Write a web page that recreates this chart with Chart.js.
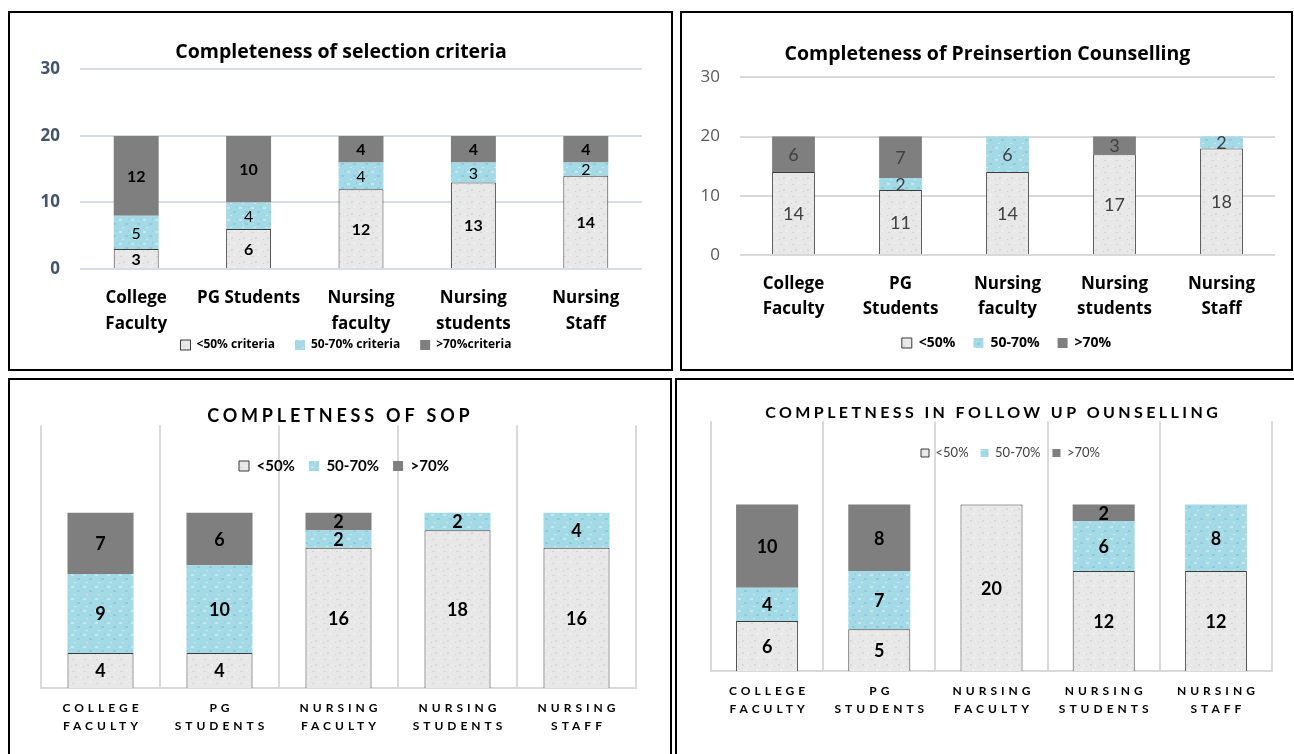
<!DOCTYPE html>
<html>
<head>
<meta charset="utf-8">
<script src="https://cdn.jsdelivr.net/npm/chart.js@4.4.1/dist/chart.umd.min.js"></script>
<style>
  body { margin: 0; background: #fff; width: 1294px; height: 754px; overflow: hidden; position: relative; }
  .panel { position: absolute; border: 2px solid #000; box-sizing: border-box; background: #fff; }
  .panel canvas { position: absolute; left: 0; top: 0; }
</style>
</head>
<body>
<div class="panel" style="left:8px;top:11px;width:665px;height:360px"><canvas id="selection" width="661" height="356"></canvas></div>
<div class="panel" style="left:680px;top:11px;width:613px;height:360px"><canvas id="preinsertion" width="609" height="356"></canvas></div>
<div class="panel" style="left:8px;top:378px;width:664px;height:380px"><canvas id="sop" width="660" height="376"></canvas></div>
<div class="panel" style="left:675px;top:378px;width:622px;height:380px"><canvas id="followup" width="618" height="376"></canvas></div>

<script>
// ---- data ----
const selectionLabels = [['College', 'Faculty'], 'PG Students', ['Nursing', 'faculty'], ['Nursing', 'students'], ['Nursing', 'Staff']];
const preinsertionLabels = [['College', 'Faculty'], ['PG', 'Students'], ['Nursing', 'faculty'], ['Nursing', 'students'], ['Nursing', 'Staff']];
const sopLabels = [['COLLEGE', 'FACULTY'], ['PG', 'STUDENTS'], ['NURSING', 'FACULTY'], ['NURSING', 'STUDENTS'], ['NURSING', 'STAFF']];
const followUpLabels = [['COLLEGE', 'FACULTY'], ['PG', 'STUDENTS'], ['NURSING', 'FACULTY'], ['NURSING', 'STUDENTS'], ['NURSING', 'STAFF']];

const selectionNames = ['<50% criteria', '50-70% criteria', '>70%criteria'];
const bandNames = ['<50%', '50-70%', '>70%'];

const selectionLow = [3, 6, 12, 13, 14];
const selectionMid = [5, 4, 4, 3, 2];
const selectionHigh = [12, 10, 4, 4, 4];

const preinsertionLow = [14, 11, 14, 17, 18];
const preinsertionMid = [0, 2, 6, 0, 2];
const preinsertionHigh = [6, 7, 0, 3, 0];

const sopLow = [4, 4, 16, 18, 16];
const sopMid = [9, 10, 2, 2, 4];
const sopHigh = [7, 6, 2, 0, 0];

const followUpLow = [6, 5, 20, 12, 12];
const followUpMid = [4, 7, 0, 6, 8];
const followUpHigh = [10, 8, 0, 2, 0];

const yTicks = [0, 10, 20, 30];

// ---- look ----
Chart.defaults.font.family = '"Open Sans"';

// small speckled tiles, like the picture fills in the original
function speckle(base, dots) {
  const c = document.createElement('canvas');
  c.width = c.height = 12;
  const g = c.getContext('2d');
  g.fillStyle = base;
  g.fillRect(0, 0, 12, 12);
  dots.forEach(d => { g.fillStyle = d[4]; g.fillRect(d[0], d[1], d[2], d[3]); });
  return g.createPattern(c, 'repeat');
}
const fills = [
  speckle('#E8E8E8', [[2, 3, 2, 1, '#D4D4D4'], [8, 1, 1, 2, '#F6F6F6'], [5, 8, 2, 2, '#D9D9D9'], [10, 9, 1, 1, '#F8F8F8'], [1, 10, 1, 1, '#D0D0D0']]),
  speckle('#A4D9E6', [[1, 2, 3, 2, '#C3E8F1'], [7, 6, 3, 2, '#8ECCDC'], [4, 10, 2, 1, '#C9EBF3'], [10, 1, 1, 2, '#92CFDF']]),
  '#7F7F7F'
];

// numbers in the middle of each stacked segment
const segmentLabels = {
  id: 'segmentLabels',
  afterDatasetsDraw(chart, args, opts) {
    const ctx = chart.ctx;
    ctx.save();
    ctx.textAlign = 'center';
    ctx.textBaseline = 'middle';
    chart.data.datasets.forEach((ds, i) => {
      chart.getDatasetMeta(i).data.forEach((bar, j) => {
        const v = ds.data[j];
        if (!v) return;
        ctx.font = opts.fonts[i];
        ctx.fillStyle = opts.color;
        ctx.fillText(String(v), bar.x, (bar.y + bar.base) / 2 + 1);
      });
    });
    ctx.restore();
  }
};

// letter spacing for title / category labels, and legend nudge
const textTweaks = {
  id: 'textTweaks',
  afterLayout(chart, args, opts) {
    const lg = chart.legend;
    if (lg) {
      lg.top += opts.legendShift || 0;
      lg.left += opts.legendShiftX || 0;
      lg.right += opts.legendShiftX || 0;
      lg.bottom = Math.max(lg.bottom, lg.top + 50);
    }
    if (chart.$tweaked) return;
    chart.$tweaked = true;
    const spaced = (obj, fn, sp) => {
      if (!sp || !obj) return;
      const orig = obj[fn];
      obj[fn] = function () {
        const ctx = this.ctx;
        ctx.save();
        ctx.letterSpacing = sp + 'px';
        ctx.translate(sp / 2, 0);
        orig.apply(this, arguments);
        ctx.restore();
      };
    };
    spaced(chart.titleBlock, 'draw', opts.titleSpacing);
    spaced(chart.scales.x, 'drawLabels', opts.tickSpacing);
  }
};

function stackedChart(id, o) {
  return new Chart(document.getElementById(id), {
    type: 'bar',
    data: {
      labels: o.labels,
      datasets: o.series.map((s, i) => ({
        label: o.names[i],
        data: s,
        backgroundColor: fills[i],
        borderColor: i === 0 ? '#3A3A3A' : 'rgba(0,0,0,0)',
        borderWidth: i === 0 ? 1 : 0,
        barPercentage: o.barPct,
        categoryPercentage: 1
      }))
    },
    options: {
      responsive: false,
      animation: false,
      events: [],
      layout: { padding: o.padding },
      scales: {
        x: {
          stacked: true,
          grid: { display: o.vgrid, color: '#D9D9D9', lineWidth: 2, offset: true, drawTicks: false },
          border: { display: o.vgrid, color: '#D9D9D9', width: 2 },
          ticks: { font: o.tickFont, color: '#000', padding: o.tickPad, maxRotation: 0, autoSkip: false }
        },
        y: {
          stacked: true,
          min: 0,
          max: 30,
          display: o.yAxis,
          afterBuildTicks: s => { s.ticks = yTicks.map(v => ({ value: v })); },
          afterFit: s => { s.width = o.yWidth || 0; },
          ticks: { font: o.yFont, color: o.yColor, padding: 20 },
          grid: { color: o.gridColor, lineWidth: 2, drawTicks: false },
          border: { display: false }
        }
      },
      plugins: {
        title: {
          display: true,
          text: o.title,
          color: '#000',
          font: o.titleFont,
          padding: { top: 0, bottom: o.titleGap }
        },
        legend: {
          position: o.legendPos,
          maxHeight: o.legendMax,
          labels: { font: o.legendFont, color: o.legendColor, boxWidth: o.legendBox, boxHeight: o.legendBox, padding: o.legendPad }
        },
        tooltip: { enabled: false },
        segmentLabels: { fonts: o.valueFonts, color: o.valueColor },
        textTweaks: {
          legendShift: o.legendShift, legendShiftX: o.legendShiftX,
          titleSpacing: o.titleSpacing, tickSpacing: o.tickSpacing
        }
      }
    },
    plugins: [segmentLabels, textTweaks]
  });
}

stackedChart('selection', {
  labels: selectionLabels,
  names: selectionNames,
  series: [selectionLow, selectionMid, selectionHigh],
  title: 'Completeness of selection criteria',
  titleFont: { size: 19.5, weight: 'bold', lineHeight: 1.2 },
  titleGap: 5,
  padding: { top: 28, left: 30, right: 29, bottom: 0 },
  barPct: 0.4,
  vgrid: false,
  tickFont: { size: 17, weight: 'bold', lineHeight: 26 / 17 },
  tickPad: 16.5,
  yAxis: true, yWidth: 40,
  yFont: { size: 17, weight: 'bold' }, yColor: '#44546A',
  gridColor: '#D6DCE5',
  legendPos: 'bottom', legendMax: 15, legendPad: 20, legendBox: 10, legendShift: -35, legendShiftX: 5,
  legendFont: { size: 12, weight: 'bold' }, legendColor: '#000',
  valueFonts: ['bold 16px Lato', '16px Lato', 'bold 16px Lato'], valueColor: '#000'
});

stackedChart('preinsertion', {
  labels: preinsertionLabels,
  names: bandNames,
  series: [preinsertionLow, preinsertionMid, preinsertionHigh],
  title: 'Completeness of Preinsertion Counselling',
  titleFont: { size: 19.5, weight: 'bold', lineHeight: 1.2 },
  titleGap: 11,
  padding: { top: 30, left: 18, right: 16, bottom: 0 },
  barPct: 0.4,
  vgrid: false,
  tickFont: { size: 17, weight: 'bold', lineHeight: 25 / 17 },
  tickPad: 16.5,
  yAxis: true, yWidth: 40,
  yFont: { size: 17 }, yColor: '#595959',
  gridColor: '#D9D9D9',
  legendPos: 'bottom', legendMax: 31, legendPad: 18, legendBox: 10, legendShift: -20, legendShiftX: 19,
  legendFont: { size: 14, weight: 'bold' }, legendColor: '#000',
  valueFonts: ['18px Lato', '18px Lato', '18px Lato'], valueColor: '#404040'
});

stackedChart('sop', {
  labels: sopLabels,
  names: bandNames,
  series: [sopLow, sopMid, sopHigh],
  title: 'COMPLETNESS OF SOP',
  titleFont: { family: 'Lato', size: 18, weight: 'bold', lineHeight: 0.9 },
  titleGap: 0, titleSpacing: 3.8,
  padding: { top: 28, left: 31, right: 34, bottom: 10 },
  barPct: 0.555,
  vgrid: true,
  tickFont: { family: 'Lato', size: 12, weight: 'bold', lineHeight: 1.5 },
  tickPad: 11, tickSpacing: 4,
  yAxis: false,
  legendPos: 'top', legendMax: 1, legendPad: 14, legendBox: 10, legendShift: 20.3, legendShiftX: 5.5,
  legendFont: { family: 'Lato', size: 15, weight: 'bold' }, legendColor: '#000',
  valueFonts: ['bold 18px Lato', 'bold 18px Lato', 'bold 18px Lato'], valueColor: '#000'
});

stackedChart('followup', {
  labels: followUpLabels,
  names: bandNames,
  series: [followUpLow, followUpMid, followUpHigh],
  title: 'COMPLETNESS IN FOLLOW UP OUNSELLING',
  titleFont: { family: 'Lato', size: 16, weight: 'bold', lineHeight: 0.9 },
  titleGap: 0, titleSpacing: 3.4,
  padding: { top: 25.8, left: 34, right: 23, bottom: 27 },
  barPct: 0.553,
  vgrid: true,
  tickFont: { family: 'Lato', size: 12, weight: 'bold', lineHeight: 1.5 },
  tickPad: 11, tickSpacing: 4,
  yAxis: false,
  legendPos: 'top', legendMax: 1, legendPad: 12, legendBox: 8, legendShift: 14.3, legendShiftX: 19,
  legendFont: { family: 'Lato', size: 13 }, legendColor: '#404040',
  valueFonts: ['bold 18px Lato', 'bold 18px Lato', 'bold 18px Lato'], valueColor: '#000'
});
</script>
</body>
</html>
